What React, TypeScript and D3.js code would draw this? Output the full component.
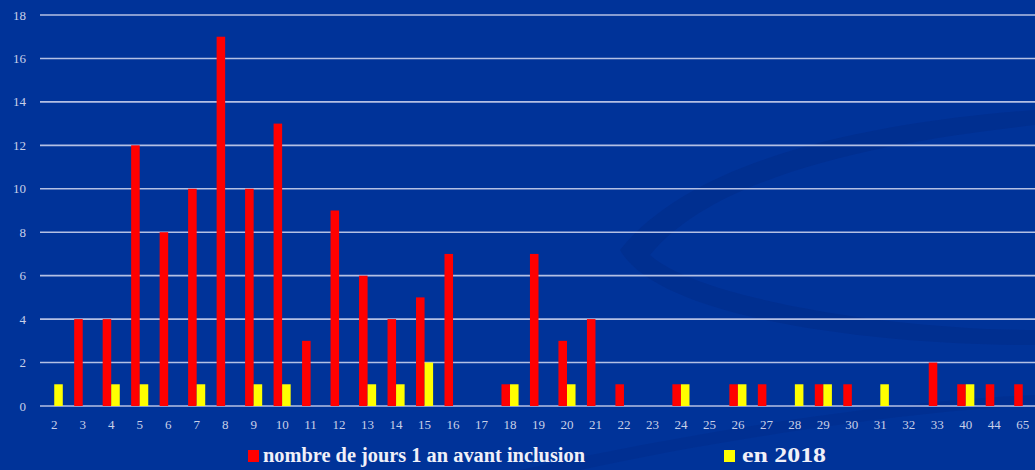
import React from "react";
import * as d3 from "d3";

const categories = ["2","3","4","5","6","7","8","9","10","11","12","13","14","15","16","17","18","19","20","21","22","23","24","25","26","27","28","29","30","31","32","33","40","44","65"];
const seriesAvant = [0,4,4,12,8,10,17,10,13,3,9,6,4,5,7,0,1,7,3,4,1,0,1,0,1,1,0,1,1,0,0,2,1,1,1];
const series2018 = [1,0,1,1,0,1,0,1,1,0,0,1,1,2,0,0,1,0,1,0,0,0,1,0,1,0,1,1,0,1,0,0,1,0,0];
const yTicks = [0,2,4,6,8,10,12,14,16,18];
const seriesNames = ["nombre de jours 1 an avant inclusion", "en 2018"];
const seriesColors = ["#ff0000", "#ffff00"];

const W = 1035, H = 470;

export default function App() {
  const x = d3.scaleBand<string>().domain(categories).range([40, 1037]).paddingInner(0.4).paddingOuter(0.2);
  const x1 = d3.scaleBand<string>().domain(["a", "b"]).range([0, x.bandwidth()]);
  const y = d3.scaleLinear().domain([0, 18]).range([406, 15]);
  const series = [seriesAvant, series2018];
  const keys = ["a", "b"];
  return (
    <svg width={W} height={H} style={{ position: "absolute", left: 0, top: 0, display: "block" }}>
      <rect x={0} y={0} width={W} height={H} fill="#003399" />
      <path d="M620,250 C700,150 900,120 1035,110 L1035,125 C900,140 720,170 650,255 C700,300 900,330 1035,330 L1035,345 C880,345 660,320 620,250 Z" fill="#002a86" opacity={0.45} />
      <path d="M520,470 C700,430 900,400 1035,395 L1035,405 C900,412 720,440 580,470 Z" fill="#002a86" opacity={0.4} />
      {yTicks.map(t => (
        <g key={t}>
          <line x1={40} x2={W} y1={y(t)} y2={y(t)} stroke="#b4c0e4" strokeWidth={1.6} />
          <text x={26} y={y(t)} dy="0.35em" textAnchor="end" fill="#c8d0e8" fontFamily="Liberation Serif, serif" fontSize={13}>{t}</text>
        </g>
      ))}
      {series.map((s, si) => s.map((v, i) => v > 0 ? (
        <rect key={si + "-" + i} x={(x(categories[i]) as number) + (x1(keys[si]) as number)} y={y(v)} width={x1.bandwidth()} height={y(0) - y(v)} fill={seriesColors[si]} />
      ) : null))}
      {categories.map(c => (
        <text key={c} x={(x(c) as number) + x.bandwidth() / 2} y={429} textAnchor="middle" fill="#c8d0e8" fontFamily="Liberation Serif, serif" fontSize={13}>{c}</text>
      ))}
      <rect x={248} y={450} width={11} height={12} fill={seriesColors[0]} />
      <text x={263} y={462} fill="#f0f0f8" fontFamily="Liberation Serif, serif" fontWeight="bold" fontSize={20} textLength={322} lengthAdjust="spacingAndGlyphs">{seriesNames[0]}</text>
      <rect x={724} y={450} width={11} height={12} fill={seriesColors[1]} />
      <text x={742} y={462} fill="#f0f0f8" fontFamily="Liberation Serif, serif" fontWeight="bold" fontSize={20} textLength={84} lengthAdjust="spacingAndGlyphs">{seriesNames[1]}</text>
    </svg>
  );
}
